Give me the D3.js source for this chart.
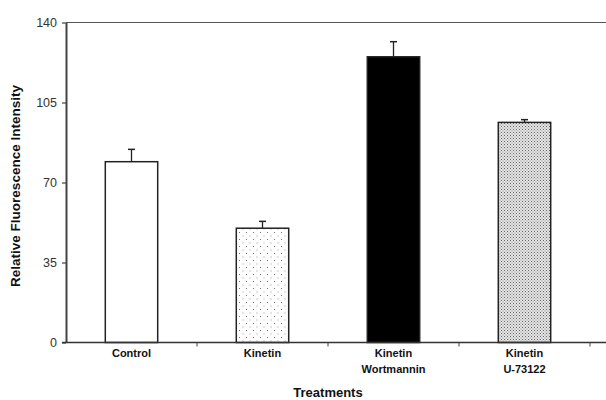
<!DOCTYPE html>
<html>
<head>
<meta charset="utf-8">
<script src="https://cdn.jsdelivr.net/npm/d3@7"></script>
<style>
  body { margin: 0; background: #fff; }
  text { font-family: "Liberation Sans", Arial, sans-serif; }
</style>
</head>
<body>
<div id="chart"></div>
<script>
// treatments along the x axis, each label may have two lines
const categories = [["Control"], ["Kinetin"], ["Kinetin", "Wortmannin"], ["Kinetin", "U-73122"]];
const values = [79.1, 50.0, 125.0, 96.3];
const errors = [5.4, 3.0, 6.6, 1.2];
const yTicks = [0, 35, 70, 105, 140];
const fills = ["white", "url(#dots)", "black", "url(#check)"];

const width = 606, height = 400;
const plotLeft = 66, plotTop = 22.5, plotRight = 590, plotBottom = 342.5;

const svg = d3.select('#chart').append('svg')
    .attr('width', width)
    .attr('height', height);

// fill patterns for the two hatched bars
const defs = svg.append('defs');
const dots = defs.append('pattern').attr('id', 'dots')
    .attr('width', 7).attr('height', 7).attr('patternUnits', 'userSpaceOnUse');
dots.append('rect').attr('width', 7).attr('height', 7).attr('fill', 'white');
dots.append('rect').attr('x', 1).attr('y', 1).attr('width', 1).attr('height', 1).attr('fill', '#777');
dots.append('rect').attr('x', 4.5).attr('y', 4.5).attr('width', 1).attr('height', 1).attr('fill', '#999');

const check = defs.append('pattern').attr('id', 'check')
    .attr('width', 3).attr('height', 3).attr('patternUnits', 'userSpaceOnUse');
check.append('rect').attr('width', 3).attr('height', 3).attr('fill', '#e4e4e4');
check.append('rect').attr('x', 0).attr('y', 0).attr('width', 1).attr('height', 1).attr('fill', '#666');
check.append('rect').attr('x', 1.5).attr('y', 1.5).attr('width', 1).attr('height', 1).attr('fill', '#888');

const xScale = d3.scaleBand()
    .domain(d3.range(categories.length))
    .range([plotLeft, plotRight])
    .paddingInner(0.6)
    .paddingOuter(0.3);

const yScale = d3.scaleLinear().domain([0, 140]).range([plotBottom, plotTop]);

// top frame line
svg.append('line')
    .attr('x1', plotLeft).attr('x2', width)
    .attr('y1', plotTop).attr('y2', plotTop)
    .attr('stroke', '#555').attr('stroke-width', 1.2);

// bars
svg.selectAll('rect.bar')
    .data(values)
    .enter()
    .append('rect')
        .attr('class', 'bar')
        .attr('x', (d, i) => xScale(i))
        .attr('y', (d) => yScale(d))
        .attr('width', xScale.bandwidth())
        .attr('height', (d) => plotBottom - yScale(d))
        .attr('fill', (d, i) => fills[i])
        .attr('stroke', '#222')
        .attr('stroke-width', 1.5);

// error bars (upper half only)
const eb = svg.selectAll('g.err')
    .data(values)
    .enter()
    .append('g').attr('class', 'err');
eb.append('line')
    .attr('x1', (d, i) => xScale(i) + xScale.bandwidth() / 2)
    .attr('x2', (d, i) => xScale(i) + xScale.bandwidth() / 2)
    .attr('y1', (d) => yScale(d))
    .attr('y2', (d, i) => yScale(d + errors[i]))
    .attr('stroke', '#222').attr('stroke-width', 1.3);
eb.append('line')
    .attr('x1', (d, i) => xScale(i) + xScale.bandwidth() / 2 - 3.5)
    .attr('x2', (d, i) => xScale(i) + xScale.bandwidth() / 2 + 3.5)
    .attr('y1', (d, i) => yScale(d + errors[i]))
    .attr('y2', (d, i) => yScale(d + errors[i]))
    .attr('stroke', '#222').attr('stroke-width', 1.5);

// y axis
const yAxis = svg.append('g')
    .attr('transform', `translate(${plotLeft}, 0)`)
    .call(d3.axisLeft(yScale).tickValues(yTicks).tickSize(4).tickSizeOuter(0).tickPadding(5));
yAxis.select('.domain').attr('stroke', '#444').attr('stroke-width', 2);
yAxis.selectAll('.tick line').attr('stroke', '#444').attr('stroke-width', 1.2);
yAxis.selectAll('.tick text').attr('font-size', 12.5).attr('fill', '#333')
    .style('font-family', '"Liberation Sans", Arial, sans-serif');

// x axis: ticks sit at the band boundaries
const boundaries = d3.range(categories.length + 1).map((i) => plotLeft + i * (plotRight - plotLeft) / categories.length);
svg.append('line')
    .attr('x1', plotLeft - 4).attr('x2', width)
    .attr('y1', plotBottom).attr('y2', plotBottom)
    .attr('stroke', '#333').attr('stroke-width', 1.5);
svg.selectAll('line.xtick')
    .data(boundaries.slice(1))
    .enter()
    .append('line')
        .attr('class', 'xtick')
        .attr('x1', (d) => d).attr('x2', (d) => d)
        .attr('y1', plotBottom).attr('y2', plotBottom + 4)
        .attr('stroke', '#444').attr('stroke-width', 1);

// category labels
const labels = svg.selectAll('text.cat')
    .data(categories)
    .enter()
    .append('text')
        .attr('class', 'cat')
        .attr('text-anchor', 'middle')
        .attr('font-size', 11)
        .attr('font-weight', 'bold')
        .attr('fill', '#111')
        .attr('x', (d, i) => xScale(i) + xScale.bandwidth() / 2)
        .attr('y', 357);
labels.selectAll('tspan')
    .data((d) => d)
    .enter()
    .append('tspan')
        .attr('x', function () { return d3.select(this.parentNode).attr('x'); })
        .attr('dy', (d, i) => i === 0 ? 0 : 16)
        .text((d) => d);

// axis titles
svg.append('text')
    .attr('x', 328).attr('y', 397)
    .attr('text-anchor', 'middle')
    .attr('font-size', 13).attr('font-weight', 'bold').attr('fill', '#111')
    .text('Treatments');

svg.append('text')
    .attr('transform', `translate(20, 186) rotate(-90)`)
    .attr('text-anchor', 'middle')
    .attr('font-size', 13.5).attr('font-weight', 'bold').attr('fill', '#111')
    .text('Relative Fluorescence Intensity');
</script>
</body>
</html>
